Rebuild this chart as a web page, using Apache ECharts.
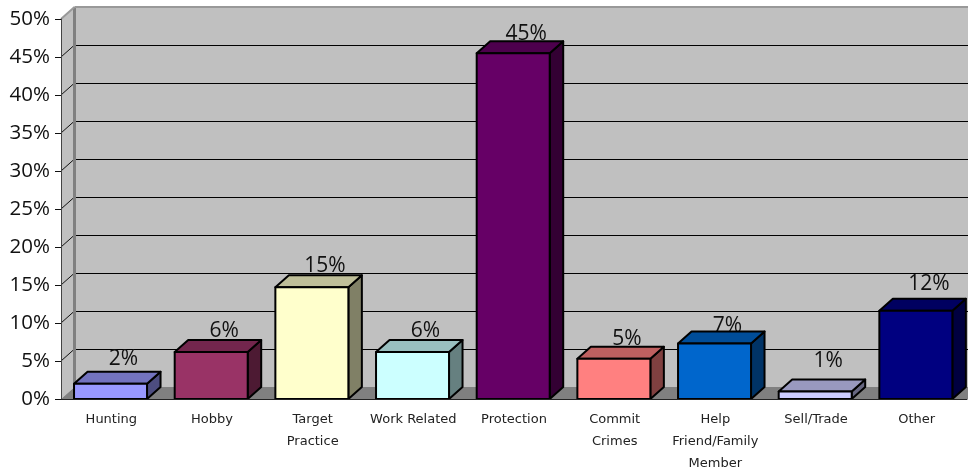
<!DOCTYPE html>
<html>
<head>
<meta charset="utf-8">
<style>html,body{margin:0;padding:0;background:#fff}#c{width:968px;height:472px}</style>
<script src="https://cdn.jsdelivr.net/npm/echarts@6/dist/echarts.min.js"></script>
</head>
<body>
<div id="c"></div>
<script>
const categories = ['Hunting','Hobby','Target\nPractice','Work Related','Protection','Commit\nCrimes','Help\nFriend/Family\nMember','Sell/Trade','Other'];
const values = [2, 6.2, 14.7, 6.2, 45.5, 5.3, 7.3, 1, 11.6];
const valueLabels = ['2%','6%','15%','6%','45%','5%','7%','1%','12%'];
const gridValues = [5,10,15,20,25,30,35,40,45,50];

// styling, kept apart from the data
const barColors = ['#9999FF','#993366','#FFFFCC','#CCFFFF','#660066','#FF8080','#0066CC','#CCCCFF','#000080'];
const labelRise = [13,9,9,9,7,8,6,18,15];
const DX = 13.5, DY = 12, BAR_W = 73, BAR_SHIFT = -0.8;
const NUM_FONT = '"Open Sans"';

function shade(hex, k){
  const n = parseInt(hex.slice(1),16);
  const f = s => Math.round(((n>>s)&255)*k);
  return `rgb(${f(16)},${f(8)},${f(0)})`;
}

function renderWall(params, api){
  const band = api.size([1,0])[0];
  const x0 = api.coord([0,0])[0] - band/2;
  const y0 = api.coord([0,0])[1];
  const yTop = api.coord([0,50])[1];
  const xR = x0 + band*categories.length + 2;
  const ch = [];
  const poly = (pts, fill, stroke, lw) => ch.push({type:'polygon', shape:{points:pts}, style:{fill, stroke:stroke||null, lineWidth:lw||0}});
  const line = (a,b,stroke,lw) => ch.push({type:'line', shape:{x1:a[0],y1:a[1],x2:b[0],y2:b[1]}, style:{stroke,lineWidth:lw}});
  poly([[x0+DX,yTop-DY],[xR,yTop-DY],[xR,y0-DY],[x0+DX,y0-DY]], '#C0C0C0');
  poly([[x0,yTop],[x0+DX,yTop-DY],[x0+DX,y0-DY],[x0,y0]], '#C0C0C0');
  poly([[x0,y0],[x0+DX,y0-DY],[xR,y0-DY],[xR,y0]], '#808080');
  gridValues.forEach(v => {
    const y = api.coord([0,v])[1];
    if (v < 50) {
      const yb = Math.round(y-DY)+0.5;
      line([x0+DX,yb],[xR,yb],'#000',1);
      line([x0,y],[x0+DX,y-DY],'#111',1);
    }
  });
  line([x0+DX,yTop-DY],[x0+DX,y0-DY],'#808080',3);
  line([x0+DX,yTop-DY],[xR,yTop-DY],'#999',2);
  line([x0,yTop],[x0+DX,yTop-DY],'#999',2);
  return {type:'group', children:ch};
}

function renderBar(params, api){
  const i = api.value(0), v = api.value(1);
  const c = api.coord([i,v]), b = api.coord([i,0]);
  const cx = c[0]+BAR_SHIFT;
  const l = cx-BAR_W/2, r = cx+BAR_W/2, t = c[1], y0 = b[1];
  const color = barColors[i];
  const st = fill => ({fill, stroke:'#000', lineWidth:2, lineJoin:'round'});
  return {type:'group', children:[
    {type:'text', style:{text:valueLabels[i], x:cx+DX-0.5, y:t-DY-labelRise[i], align:'center', verticalAlign:'middle',
      font:'21px '+NUM_FONT, fill:'#111'}},
    {type:'polygon', shape:{points:[[r,y0],[r+DX,y0-DY],[r+DX,t-DY],[r,t]]}, style:st(shade(color,0.5))},
    {type:'polygon', shape:{points:[[l,t],[l+DX,t-DY],[r+DX,t-DY],[r,t]]}, style:st(shade(color,0.75))},
    {type:'rect', shape:{x:l,y:t,width:BAR_W,height:y0-t}, style:st(color)}
  ]};
}

const chart = echarts.init(document.getElementById('c'), null, {renderer:'canvas'});
chart.setOption({
  animation:false,
  backgroundColor:'#fff',
  grid:{left:61, right:1, top:19, bottom:73, outerBoundsMode:'none'},
  xAxis:{type:'category', data:categories, z:5,
    axisLine:{lineStyle:{color:'#222',width:1}},
    axisTick:{length:6, lineStyle:{color:'#111'}},
    axisLabel:{interval:0, color:'#222', fontFamily:'"DejaVu Sans"', fontSize:13, lineHeight:22, margin:10}},
  yAxis:{type:'value', min:0, max:50, interval:5, z:5,
    axisLine:{show:true, lineStyle:{color:'#444',width:1}},
    axisTick:{show:true, length:6, lineStyle:{color:'#111'}},
    splitLine:{show:false},
    axisLabel:{formatter:'{value}%', color:'#111', fontFamily:NUM_FONT, fontSize:20.5, margin:11}},
  series:[
    {type:'custom', z:1, clip:false, silent:true, data:[[0,0]], renderItem:renderWall, encode:{x:0,y:1}},
    {type:'custom', z:3, clip:false, silent:true, data:values.map((v,i)=>[i,v]), renderItem:renderBar, encode:{x:0,y:1}}
  ]
});
</script>
</body>
</html>
